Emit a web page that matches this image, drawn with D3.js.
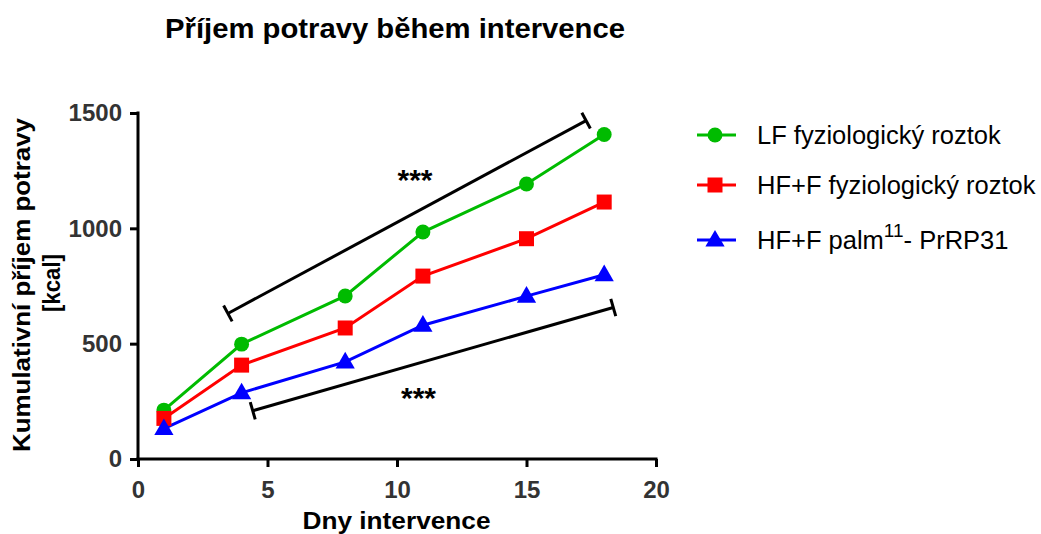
<!DOCTYPE html>
<html><head><meta charset="utf-8">
<script src="https://cdn.jsdelivr.net/npm/d3@7"></script>
<style>body{margin:0;background:#fff}svg{display:block;font-family:"Liberation Sans",Arial,sans-serif}</style>
</head><body>
<script>
const days = [1, 4, 8, 11, 15, 18];
const lfSaline = [212, 498, 707, 984, 1192, 1407];
const hfSaline = [176, 407, 568, 793, 955, 1114];
const hfPalm = [132, 287, 421, 580, 706, 799];
const seriesNames = ["LF fyziologický roztok", "HF+F fyziologický roztok", "HF+F palm"];
const xTicks = [0, 5, 10, 15, 20];
const yTicks = [0, 500, 1000, 1500];
// significance brackets: [x1, y1, x2, y2] in data units
const bracketUpper = [3.47, 631, 17.3, 1467];
const bracketLower = [4.43, 209, 18.35, 657];

const W = 1041, H = 534;
const FONT = '"Liberation Sans",Arial,sans-serif';
const svg = d3.select("body").append("svg").attr("width", W).attr("height", H);
const x = d3.scaleLinear().domain([0, 20]).range([138, 656]);
const y = d3.scaleLinear().domain([0, 1500]).range([459, 113]);

svg.append("text").attr("x", 395).attr("y", 38).attr("text-anchor", "middle")
  .attr("font-size", 28).attr("font-weight", "bold")
  .attr("textLength", 460).attr("lengthAdjust", "spacingAndGlyphs")
  .text("Příjem potravy během intervence");

const xAxis = svg.append("g").attr("transform", "translate(0,459)")
  .call(d3.axisBottom(x).tickValues(xTicks).tickFormat(d3.format("d")).tickSize(8).tickPadding(14));
const yAxis = svg.append("g").attr("transform", "translate(138,0)")
  .call(d3.axisLeft(y).tickValues(yTicks).tickFormat(d3.format("d")).tickSize(8).tickPadding(8));
[xAxis, yAxis].forEach(a => {
  a.select(".domain").attr("stroke", "#000").attr("stroke-width", 3);
  a.selectAll(".tick line").attr("stroke", "#000").attr("stroke-width", 3);
  a.selectAll(".tick text").attr("font-size", 24).attr("font-weight", "bold")
    .attr("fill", "#333").attr("font-family", FONT);
});
xAxis.select(".domain").attr("d", "M136.5,0H657.5");
yAxis.select(".domain").attr("d", "M0,460.5V111.5");

svg.append("text").attr("x", 396.5).attr("y", 529).attr("text-anchor", "middle")
  .attr("font-size", 24).attr("font-weight", "bold")
  .attr("textLength", 188).attr("lengthAdjust", "spacingAndGlyphs").text("Dny intervence");
const yl = svg.append("g").attr("transform", "translate(0,285) rotate(-90)");
yl.append("text").attr("x", 0).attr("y", 30).attr("text-anchor", "middle")
  .attr("font-size", 24).attr("font-weight", "bold")
  .attr("textLength", 334).attr("lengthAdjust", "spacingAndGlyphs").text("Kumulativní příjem potravy");
yl.append("text").attr("x", 2).attr("y", 60).attr("text-anchor", "middle")
  .attr("font-size", 24).attr("font-weight", "bold")
  .attr("textLength", 58).attr("lengthAdjust", "spacingAndGlyphs").text("[kcal]");

const series = [
  {vals: lfSaline, color: "#00bb00", sym: d3.symbolCircle, size: 175},
  {vals: hfSaline, color: "#ff0000", sym: d3.symbolSquare, size: 225},
  {vals: hfPalm, color: "#0000ff", sym: d3.symbolTriangle, size: 160}
];
const line = d3.line().x(d => x(d[0])).y(d => y(d[1]));
series.forEach(s => {
  const pts = days.map((d, i) => [d, s.vals[i]]);
  svg.append("path").attr("d", line(pts)).attr("fill", "none")
    .attr("stroke", s.color).attr("stroke-width", 3);
});
series.forEach(s => {
  const pts = days.map((d, i) => [d, s.vals[i]]);
  svg.selectAll(null).data(pts).enter().append("path")
    .attr("d", d3.symbol().type(s.sym).size(s.size))
    .attr("transform", d => `translate(${x(d[0])},${y(d[1]) + (s.sym === d3.symbolTriangle ? 1 : 0)})`)
    .attr("fill", s.color);
});

function bracket(b) {
  const x1 = x(b[0]), y1 = y(b[1]), x2 = x(b[2]), y2 = y(b[3]);
  const dx = x2 - x1, dy = y2 - y1, L = Math.hypot(dx, dy);
  const nx = -dy / L * 9, ny = dx / L * 9;
  const g = svg.append("g").attr("stroke", "#000").attr("stroke-width", 3);
  g.append("line").attr("x1", x1).attr("y1", y1).attr("x2", x2).attr("y2", y2);
  g.append("line").attr("x1", x1 - nx).attr("y1", y1 - ny).attr("x2", x1 + nx).attr("y2", y1 + ny);
  g.append("line").attr("x1", x2 - nx).attr("y1", y2 - ny).attr("x2", x2 + nx).attr("y2", y2 + ny);
}
bracket(bracketUpper);
bracket(bracketLower);
svg.append("text").attr("x", 415).attr("y", 190).attr("text-anchor", "middle")
  .attr("font-size", 30).attr("font-weight", "bold").text("***");
svg.append("text").attr("x", 418.5).attr("y", 408).attr("text-anchor", "middle")
  .attr("font-size", 30).attr("font-weight", "bold").text("***");

const legY = [135, 185, 240];
series.forEach((s, i) => {
  const g = svg.append("g").attr("transform", `translate(0,${legY[i]})`);
  g.append("line").attr("x1", 697).attr("x2", 736).attr("y1", 0).attr("y2", 0)
    .attr("stroke", s.color).attr("stroke-width", 3);
  g.append("path").attr("d", d3.symbol().type(s.sym).size(s.size)).attr("fill", s.color)
    .attr("transform", `translate(715,${s.sym === d3.symbolTriangle ? 1 : 0})`);
  const t = g.append("text").attr("x", 757).attr("y", 9).attr("font-size", 25.5).attr("fill", "#000");
  t.append("tspan").text(seriesNames[i]);
  if (i === 2) {
    t.append("tspan").attr("dy", -12).attr("font-size", 19).text("11");
    t.append("tspan").attr("dy", 12).text("- PrRP31");
  }
});
</script>
</body></html>
